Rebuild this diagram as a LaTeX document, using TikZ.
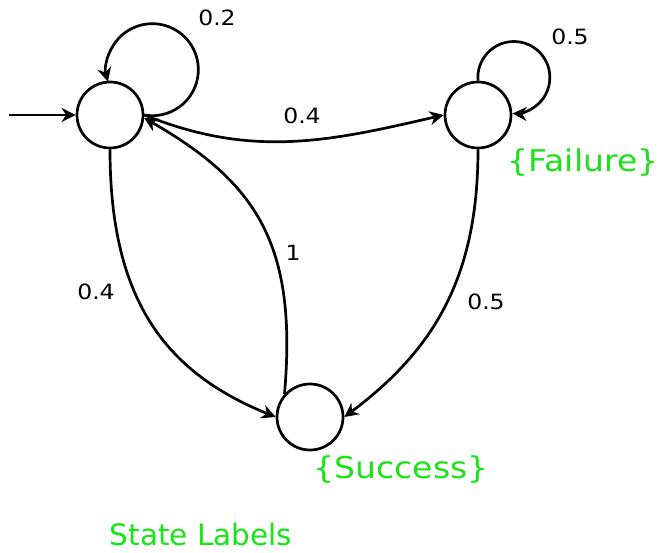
\documentclass[tikz,border=0pt]{standalone}
\usepackage{fontspec}
\setmainfont{DejaVu Sans}
\newfontfamily\probfont[FakeStretch=1.12]{DejaVu Sans}
\newfontfamily\bracefont[FakeStretch=1.1]{DejaVu Sans}
\usetikzlibrary{arrows.meta}
\definecolor{lblgreen}{RGB}{24,228,24}
\begin{document}
\begin{tikzpicture}[x=1pt,y=1pt,
  state/.style={circle,draw,line width=2.7pt,minimum size=66pt,inner sep=0pt},
  edge/.style={line width=2.7pt,-{Stealth[length=14pt,width=14pt,inset=4.5pt]}},
  prob/.style={font=\probfont\fontsize{21}{24}\selectfont,inner sep=0pt},
  slabel/.style={font=\bracefont\fontsize{30}{34}\selectfont,text=lblgreen,inner sep=0pt,anchor=base}]
\useasboundingbox (0,0) rectangle (660,553);
% states
\node[state] (L) at (110,438) {};
\node[state] (R) at (478,438) {};
\node[state] (S) at (310,136) {};
\coordinate (init) at (9,438);
% edges
\draw[edge] (init) -- (L.west);
\draw[edge] (L.east) arc[start angle=-100, end angle=195, radius=46];
\draw[edge] (R.north) arc[start angle=185, end angle=-92, radius=36];
\draw[edge] (L.east) to[out=-22,in=193] (R.west);
\draw[edge] (L.south) .. controls +(0,-150) and +(-111,45) .. (S.west);
\draw[edge] (R.south) .. controls +(0,-130) and +(88,66) .. (S.east);
\draw[edge] (S.138) .. controls +(13,149) and +(113,-65) .. (L.-5);
% probabilities
\node[prob] (p1) at (217,535) {0.2};
\node[prob] (p2) at (570,516) {0.5};
\node[prob] (p3) at (302,437) {0.4};
\node[prob] (p4) at (293,300) {1};
\node[prob] (p5) at (96,261) {0.4};
\node[prob] (p6) at (486,251) {0.5};
% state labels
\node[slabel] (fail) at (583,381) {\{Failure\}};
\node[slabel] (succ) at (401,74) {\{Success\}};
\node[slabel,font=\rmfamily\fontsize{29.5}{33}\selectfont] (title) at (201,7) {State Labels};
\end{tikzpicture}
\end{document}
